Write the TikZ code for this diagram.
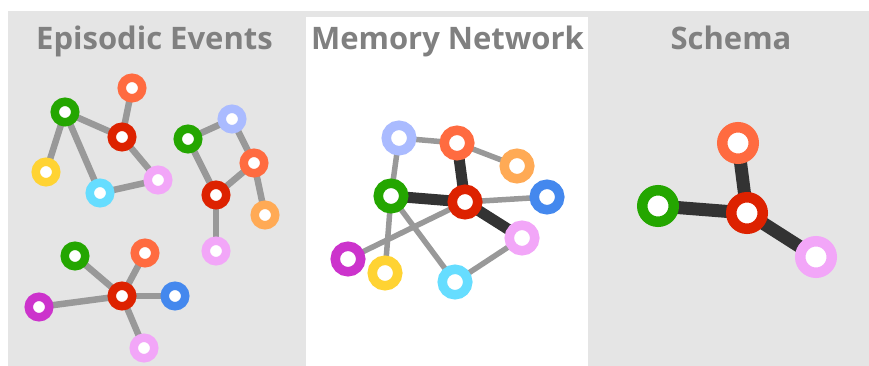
\documentclass[tikz,border=0pt]{standalone}
\usepackage{fontspec}
\setmainfont{Open Sans}
\definecolor{panelgray}{HTML}{E5E5E5}
\definecolor{titlegray}{HTML}{808080}
\definecolor{edgegray}{HTML}{999999}
\definecolor{edgedark}{HTML}{333333}
\definecolor{cgreen}{HTML}{24A600}
\definecolor{cred}{HTML}{DD2200}
\definecolor{corange}{HTML}{FF6B40}
\definecolor{cyellow}{HTML}{FFD333}
\definecolor{ccyan}{HTML}{66DDFF}
\definecolor{cpink}{HTML}{F2A6F8}
\definecolor{clav}{HTML}{AABBFF}
\definecolor{clorange}{HTML}{FFAA55}
\definecolor{cblue}{HTML}{4488EE}
\definecolor{cmag}{HTML}{CC33CC}
\pgfdeclarelayer{bg}
\pgfdeclarelayer{edges}
\pgfsetlayers{bg,edges,main}
\tikzset{
  ringS/.style={circle, draw=#1, fill=white, inner sep=0pt, minimum size=20.5pt, line width=8.5pt},
  ringM/.style={circle, draw=#1, fill=white, inner sep=0pt, minimum size=25.5pt, line width=9.5pt},
  ringL/.style={circle, draw=#1, fill=white, inner sep=0pt, minimum size=31.5pt, line width=10.5pt},
  thinS/.style={draw=edgegray, line width=6.5pt},
  thinM/.style={draw=edgegray, line width=5.5pt},
  thickM/.style={draw=edgedark, line width=11pt},
  thickL/.style={draw=edgedark, line width=13pt},
  title/.style={anchor=base, text=titlegray, font=\bfseries\fontsize{31}{37}\selectfont}
}
\begin{document}
\begin{tikzpicture}[x=1pt,y=-1pt]
\useasboundingbox (0,0) rectangle (869,366);
\begin{pgfonlayer}{bg}
\fill[panelgray] (7.5,11) rectangle (869,366);
\fill[white] (306,17) rectangle (588,366);
\end{pgfonlayer}
% titles
\node[title] (t1) at (154.5,50) {Episodic Events};
\node[title] (t2) at (447.5,50) {Memory Network};
\node[title] (t3) at (731,50) {Schema};
% left cluster A
\node[ringS=corange] (a1) at (132,88) {};
\node[ringS=cgreen] (a2) at (65,112) {};
\node[ringS=cred] (a3) at (122,137) {};
\node[ringS=cyellow] (a4) at (46,172) {};
\node[ringS=ccyan] (a5) at (100,193) {};
\node[ringS=cpink] (a6) at (158,180) {};
% cluster B
\node[ringS=clav] (b1) at (232,119) {};
\node[ringS=cgreen] (b2) at (188,139) {};
\node[ringS=corange] (b3) at (254,163) {};
\node[ringS=cred] (b4) at (216,195) {};
\node[ringS=clorange] (b5) at (265,215) {};
\node[ringS=cpink] (b6) at (216,251) {};
% cluster C
\node[ringS=cgreen] (c1) at (75,256) {};
\node[ringS=corange] (c2) at (145,253) {};
\node[ringS=cred] (c3) at (122,296) {};
\node[ringS=cblue] (c4) at (175,296) {};
\node[ringS=cmag] (c5) at (39,307) {};
\node[ringS=cpink] (c6) at (144,348) {};
% memory network
\node[ringM=clav] (m1) at (399,138) {};
\node[ringM=corange] (m2) at (457,143) {};
\node[ringM=clorange] (m3) at (517,166) {};
\node[ringM=cgreen] (m4) at (391,196) {};
\node[ringM=cred] (m5) at (465,202) {};
\node[ringM=cblue] (m6) at (547,197) {};
\node[ringM=cpink] (m7) at (522,238) {};
\node[ringM=cmag] (m8) at (348,259) {};
\node[ringM=cyellow] (m9) at (385,273) {};
\node[ringM=ccyan] (m10) at (455,282) {};
% schema
\node[ringL=corange] (s1) at (738,143) {};
\node[ringL=cgreen] (s2) at (658,206) {};
\node[ringL=cred] (s3) at (747,213) {};
\node[ringL=cpink] (s4) at (816,257) {};
\begin{pgfonlayer}{edges}
\draw[thinS] (a2.center) -- (a4.center);
\draw[thinS] (a2.center) -- (a5.center);
\draw[thinS] (a2.center) -- (a3.center);
\draw[thinS] (a3.center) -- (a1.center);
\draw[thinS] (a3.center) -- (a6.center);
\draw[thinS] (a5.center) -- (a6.center);
\draw[thinS] (b2.center) -- (b1.center);
\draw[thinS] (b1.center) -- (b3.center);
\draw[thinS] (b3.center) -- (b5.center);
\draw[thinS] (b3.center) -- (b4.center);
\draw[thinS] (b2.center) -- (b4.center);
\draw[thinS] (b4.center) -- (b6.center);
\draw[thinS] (c3.center) -- (c1.center);
\draw[thinS] (c3.center) -- (c2.center);
\draw[thinS] (c3.center) -- (c4.center);
\draw[thinS] (c3.center) -- (c5.center);
\draw[thinS] (c3.center) -- (c6.center);
\draw[thinM] (m1.center) -- (m2.center);
\draw[thinM] (m2.center) -- (m3.center);
\draw[thinM] (m1.center) -- (m4.center);
\draw[thinM] (m4.center) -- (m9.center);
\draw[thinM] (m4.center) -- (m10.center);
\draw[thinM] (m10.center) -- (m7.center);
\draw[thinM] (m5.center) -- (m6.center);
\draw[thinM] (m5.center) -- (m8.center);
\draw[thickM] (m2.center) -- (m5.center);
\draw[thickM] (m4.center) -- (m5.center);
\draw[thickM] (m5.center) -- (m7.center);
\draw[thickL] (s1.center) -- (s3.center);
\draw[thickL] (s2.center) -- (s3.center);
\draw[thickL] (s3.center) -- (s4.center);
\end{pgfonlayer}
\end{tikzpicture}
\end{document}
